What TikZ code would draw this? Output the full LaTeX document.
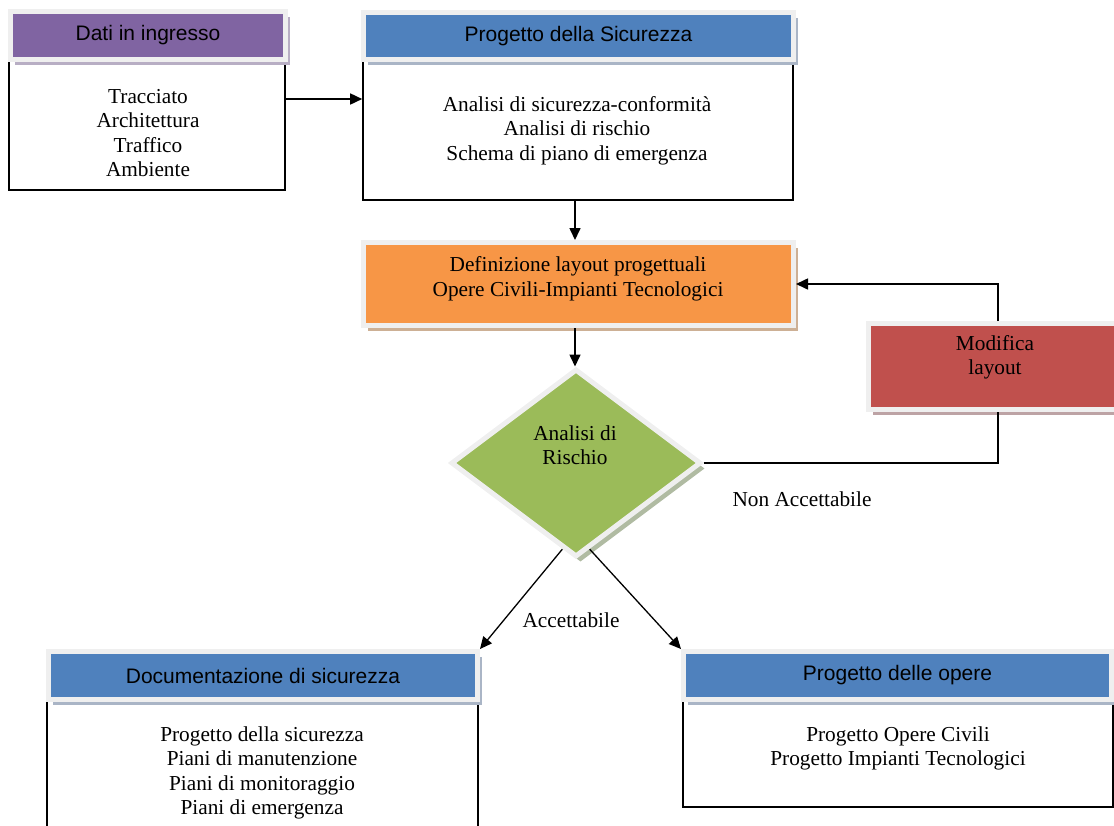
\documentclass[tikz,border=0pt]{standalone}
\usepackage{fontspec}
\setmainfont{Liberation Serif}
\newfontfamily\hdrfont{Liberation Sans}
\usetikzlibrary{arrows.meta,shapes.geometric,shadows}
\definecolor{cpurple}{HTML}{8064A2}
\definecolor{cblue}{HTML}{4F81BD}
\definecolor{corange}{HTML}{F79646}
\definecolor{cgreen}{HTML}{9BBB59}
\definecolor{cred}{HTML}{C0504D}
\definecolor{framegray}{HTML}{EFEFEF}
\definecolor{shpurple}{HTML}{B8AEC4}
\definecolor{shblue}{HTML}{AAB5C6}
\definecolor{shorange}{HTML}{CDB095}
\definecolor{shgreen}{HTML}{B0BBA2}
\definecolor{shred}{HTML}{BDA3A5}
\begin{document}
\begin{tikzpicture}[x=1pt,y=-1pt,
  body/.style={draw=black, line width=1.6pt, fill=white, inner sep=0pt},
  hdr/.style={draw=framegray, line width=5pt, inner sep=0pt, text=black,
    font=\hdrfont\fontsize{21}{24}\selectfont},
  hshadow/.style={drop shadow={shadow xshift=4.5pt, shadow yshift=-5.5pt, fill=#1, opacity=1}},
  txt/.style={align=center, inner sep=0pt, font=\fontsize{21.3}{24.5}\selectfont},
  arr/.style={-{Triangle[length=12pt,width=11pt]}, line width=1.6pt},
  conn/.style={line width=1.6pt}
]
\useasboundingbox (0,0) rectangle (1114,825);
\clip (0,0) rectangle (1114,825);

% ---- Dati in ingresso
\node[body, minimum width=276pt, minimum height=130pt] (datib) at (147,125) {};
\node[hdr, fill=cpurple, hshadow=shpurple, minimum width=275pt, minimum height=48pt] (datih) at (148,35.5) {Dati in ingresso};
\node[txt] (datit) at (148,133) {Tracciato\\Architettura\\Traffico\\Ambiente};

% ---- Progetto della Sicurezza
\node[body, minimum width=430pt, minimum height=140pt] (progb) at (578,130) {};
\node[hdr, fill=cblue, hshadow=shblue, minimum width=430pt, minimum height=47pt] (progh) at (578.5,36) {Progetto della Sicurezza};
\node[txt] (progt) at (577,130.5) {Analisi di sicurezza-conformità\\Analisi di rischio\\Schema di piano di emergenza};

% ---- Definizione layout
\node[hdr, fill=corange, hshadow=shorange, minimum width=430pt, minimum height=83pt] (defn) at (578.5,284) {};
\node[txt] (defnt) at (578,279) {Definizione layout progettuali\\Opere Civili-Impianti Tecnologici};

% ---- Diamond
\node[diamond, draw=framegray, line width=5pt, fill=cgreen, hshadow=shgreen,
      minimum width=250pt, minimum height=188pt, inner sep=0pt] (diam) at (576,463) {};
\node[txt] (diamt) at (575,445) {Analisi di\\Rischio};

% ---- Modifica layout
\node[hdr, fill=cred, hshadow=shred, minimum width=259pt, minimum height=86pt] (modb) at (998,366.5) {};
\node[txt] (modt) at (995,357.5) {Modifica\\layout};

% ---- Documentazione di sicurezza
\node[body, minimum width=431pt, minimum height=140pt] (docb) at (262.5,770) {};
\node[hdr, fill=cblue, hshadow=shblue, minimum width=429pt, minimum height=48pt] (doch) at (263,675.5) {Documentazione di sicurezza};
\node[txt] (doct) at (262,773) {Progetto della sicurezza\\Piani di manutenzione\\Piani di monitoraggio\\Piani di emergenza};

% ---- Progetto delle opere
\node[body, minimum width=430pt, minimum height=107pt] (opeb) at (898,753.5) {};
\node[hdr, fill=cblue, hshadow=shblue, minimum width=428pt, minimum height=48pt] (opeh) at (897.5,675.5) {Progetto delle opere};
\node[txt] (opet) at (898,748.5) {Progetto Opere Civili\\Progetto Impianti Tecnologici};

% ---- Connectors
\draw[arr] (datib.east |- 0,99) -- (progb.west |- 0,99);
\draw[arr] (progb.south -| 575,0) -- (defn.north -| 575,0);
\draw[arr] (defn.south -| 575,0) -- (diam.north -| 575,0);
\draw[conn] (diam.east) -| (modb.south);
\draw[arr] (modb.north) |- (defn.east);
\draw[arr, line width=1.3pt] (diam.-99) -- (doch.north east);
\draw[arr, line width=1.3pt] (diam.-81) -- (opeh.north west);

% ---- Labels
\node[txt] (lblacc) at (571,620) {Accettabile};
\node[txt] (lblnon) at (802,499) {Non Accettabile};
\end{tikzpicture}
\end{document}
